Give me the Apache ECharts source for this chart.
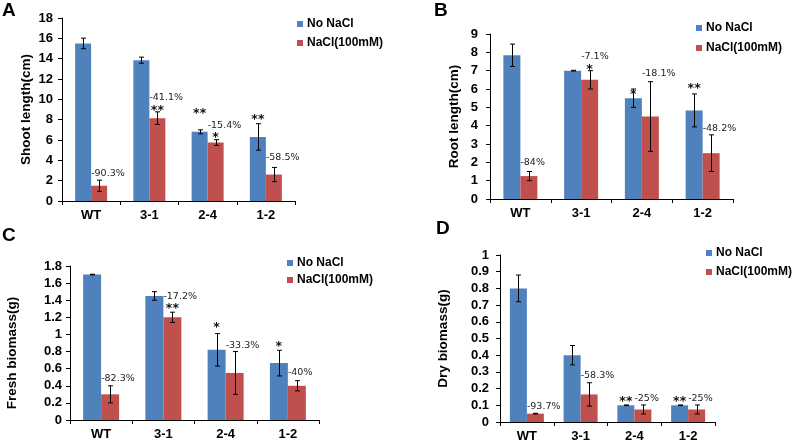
<!DOCTYPE html>
<html><head><meta charset="utf-8">
<script src="https://cdn.jsdelivr.net/npm/echarts@6/dist/echarts.min.js"></script>
<style>html,body{margin:0;padding:0;background:#fff}#c{width:800px;height:443px}</style>
</head><body><div id="c"></div>
<script>
// ---- data ----
const categories = ['WT', '3-1', '2-4', '1-2'];
const seriesNames = ['No NaCl', 'NaCl(100mM)'];

const shootNo = [15.5, 13.85, 6.8, 6.3];
const shootNoErr = [0.52, 0.3, 0.2, 1.3];
const shootSalt = [1.5, 8.15, 5.75, 2.6];
const shootSaltErr = [0.55, 0.62, 0.28, 0.7];
const shootNotes = [['-90.3%', 0, 2.75, 'pct'], ['-41.1%', 1, 10.2, 'pct'], ['**', 1, 9.2, 'r'],
  ['**', 2, 8.9, 'b'], ['-15.4%', 2, 7.4, 'pct'], ['*', 2, 6.5, 'r'],
  ['**', 3, 8.3, 'b'], ['-58.5%', 3, 4.25, 'pct']];

const rootNo = [7.84, 7.0, 5.5, 4.83];
const rootNoErr = [0.61, 0.02, 0.5, 0.9];
const rootSalt = [1.25, 6.5, 4.5, 2.5];
const rootSaltErr = [0.25, 0.5, 1.9, 1.0];
const rootNotes = [['-84%', 0, 2.0, 'pct'], ['-7.1%', 1, 7.75, 'pct'], ['*', 1, 7.23, 'r'],
  ['*', 2, 5.87, 'b'], ['-18.1%', 2, 6.87, 'pct'], ['**', 3, 6.18, 'b'], ['-48.2%', 3, 3.87, 'pct']];

const freshNo = [1.7, 1.45, 0.82, 0.665];
const freshNoErr = [0.004, 0.05, 0.19, 0.15];
const freshSalt = [0.3, 1.2, 0.55, 0.4];
const freshSaltErr = [0.1, 0.06, 0.25, 0.06];
const freshNotes = [['-82.3%', 0, 0.487, 'pct'], ['-17.2%', 1, 1.44, 'pct'], ['**', 1, 1.33, 'r'],
  ['*', 2, 1.11, 'b'], ['-33.3%', 2, 0.875, 'pct'], ['*', 3, 0.895, 'b'], ['-40%', 3, 0.557, 'pct']];

const dryNo = [0.8, 0.4, 0.1, 0.1];
const dryNoErr = [0.08, 0.058, 0.002, 0.002];
const drySalt = [0.05, 0.165, 0.075, 0.075];
const drySaltErr = [0.002, 0.07, 0.027, 0.027];
const dryNotes = [['-93.7%', 0, 0.09, 'pct'], ['-58.3%', 1, 0.276, 'pct'],
  ['**', 2, 0.14, 'b'], ['-25%', 2, 0.14, 'pct'], ['**', 3, 0.14, 'b'], ['-25%', 3, 0.14, 'pct']];

// ---- layout / style ----
const BLUE = '#4F81BD', RED = '#C0504D';
const FONT = 'Liberation Sans';
const panels = [
  { letter: 'A', title: 'Shoot length(cm)', no: shootNo, noE: shootNoErr, salt: shootSalt, saltE: shootSaltErr, notes: shootNotes,
    max: 18, interval: 2, grid: { left: 62, top: 18, width: 233, height: 183 }, barW: 16, labelMargin: 9, nameGap: 29, namePad: [0, 0, 0, 0],
    legend: { left: 297, top: 17, itemGap: 5 }, letterPos: { left: 2, top: 1 } },
  { letter: 'B', title: 'Root length(cm)', no: rootNo, noE: rootNoErr, salt: rootSalt, saltE: rootSaltErr, notes: rootNotes,
    max: 9, interval: 1, grid: { left: 490, top: 34, width: 243, height: 165 }, barW: 17, labelMargin: 12, nameGap: 29, namePad: [0, 0, 0, 0],
    legend: { left: 696, top: 21, itemGap: 6 }, letterPos: { left: 434, top: 1 } },
  { letter: 'C', title: 'Fresh biomass(g)', no: freshNo, noE: freshNoErr, salt: freshSalt, saltE: freshSaltErr, notes: freshNotes,
    max: 1.8, interval: 0.2, grid: { left: 70, top: 266, width: 249, height: 154 }, barW: 18, labelMargin: 8, nameGap: 51, namePad: [0, 20, 0, 0],
    legend: { left: 287, top: 256, itemGap: 3 }, letterPos: { left: 2, top: 226 } },
  { letter: 'D', title: 'Dry biomass(g)', no: dryNo, noE: dryNoErr, salt: drySalt, saltE: drySaltErr, notes: dryNotes,
    max: 1, interval: 0.1, grid: { left: 500, top: 255, width: 215, height: 167 }, barW: 17, labelMargin: 11, nameGap: 50, namePad: [0, 0, 0, 0],
    legend: { left: 706, top: 246, itemGap: 5 }, letterPos: { left: 436, top: 219 } }
];

function errRender(sign, barW) {
  return function (params, api) {
    const c = api.value(0), v = api.value(1), e = api.value(2);
    const p = api.coord([c, v]);
    const t = api.coord([c, v + e]);
    const b = api.coord([c, v - e]);
    const x = Math.round(p[0] + sign * barW / 2) + 0.5;
    const cap = 2.5;
    const st = { stroke: '#000', lineWidth: 1 };
    return { type: 'group', children: [
      { type: 'line', shape: { x1: x, y1: t[1], x2: x, y2: b[1] }, style: st },
      { type: 'line', shape: { x1: x - cap, y1: t[1], x2: x + cap, y2: t[1] }, style: st },
      { type: 'line', shape: { x1: x - cap, y1: b[1], x2: x + cap, y2: b[1] }, style: st }
    ] };
  };
}

function noteRender(notes, barW) {
  return function (params, api) {
    const n = notes[params.dataIndex];
    const p = api.coord([api.value(0), api.value(1)]);
    if (n[3] === 'pct') {
      return { type: 'text', style: { text: n[0], x: p[0], y: p[1], align: 'left', verticalAlign: 'middle',
        font: '9.5px "DejaVu Sans"', fill: '#222' } };
    }
    const x = p[0] + (n[3] === 'b' ? -barW / 2 : barW / 2);
    return { type: 'text', style: { text: n[0], x: x, y: p[1] + 3, align: 'center', verticalAlign: 'middle',
      font: 'bold 12.5px "DejaVu Sans"', fill: '#111' } };
  };
}

const option = { animation: false, backgroundColor: '#fff', title: [], legend: [], grid: [], xAxis: [], yAxis: [], series: [] };

panels.forEach(function (pn, i) {
  option.title.push({ text: pn.letter, left: pn.letterPos.left, top: pn.letterPos.top, padding: 0,
    textStyle: { fontFamily: FONT, fontWeight: 'bold', fontSize: 19, color: '#000' } });
  option.legend.push({ left: pn.legend.left, top: pn.legend.top, orient: 'vertical', padding: 0,
    itemGap: pn.legend.itemGap, itemWidth: 6, itemHeight: 6, icon: 'rect', data: seriesNames,
    textStyle: { fontFamily: FONT, fontWeight: 'bold', fontSize: 12, color: '#000', lineHeight: 14, padding: [0, 0, 0, -1] } });
  option.grid.push(Object.assign({ containLabel: false }, pn.grid));
  option.xAxis.push({ type: 'category', gridIndex: i, data: categories,
    axisLine: { lineStyle: { color: '#000', width: 1 } },
    axisTick: { show: true, length: 4, lineStyle: { color: '#000' } },
    axisLabel: { fontFamily: FONT, fontWeight: 'bold', fontSize: 13, color: '#000', margin: 8 } });
  option.yAxis.push({ type: 'value', gridIndex: i, min: 0, max: pn.max, interval: pn.interval,
    name: pn.title, nameLocation: 'middle', nameGap: pn.nameGap,
    nameTextStyle: { fontFamily: FONT, fontWeight: 'bold', fontSize: 13.5, color: '#000', padding: pn.namePad },
    splitLine: { show: false },
    axisLine: { show: true, lineStyle: { color: '#000', width: 1 } },
    axisTick: { show: true, length: 4, lineStyle: { color: '#000' } },
    axisLabel: { fontFamily: FONT, fontWeight: 'bold', fontSize: 13, color: '#000', margin: pn.labelMargin,
      formatter: function (v) { return String(+v.toFixed(2)); } } });
  option.series.push({ name: seriesNames[0], type: 'bar', xAxisIndex: i, yAxisIndex: i, data: pn.no,
    barWidth: pn.barW, barGap: '0%', itemStyle: { color: BLUE } });
  option.series.push({ name: seriesNames[1], type: 'bar', xAxisIndex: i, yAxisIndex: i, data: pn.salt,
    barWidth: pn.barW, barGap: '0%', itemStyle: { color: RED } });
  option.series.push({ type: 'custom', xAxisIndex: i, yAxisIndex: i, z: 5,
    renderItem: errRender(-1, pn.barW), data: pn.no.map(function (v, k) { return [k, v, pn.noE[k]]; }) });
  option.series.push({ type: 'custom', xAxisIndex: i, yAxisIndex: i, z: 5,
    renderItem: errRender(1, pn.barW), data: pn.salt.map(function (v, k) { return [k, v, pn.saltE[k]]; }) });
  option.series.push({ type: 'custom', xAxisIndex: i, yAxisIndex: i, z: 6, clip: false,
    renderItem: noteRender(pn.notes, pn.barW), data: pn.notes.map(function (n) { return [n[1], n[2]]; }) });
});

const chart = echarts.init(document.getElementById('c'), null, { renderer: 'canvas' });
chart.setOption(option);
</script>
</body></html>
